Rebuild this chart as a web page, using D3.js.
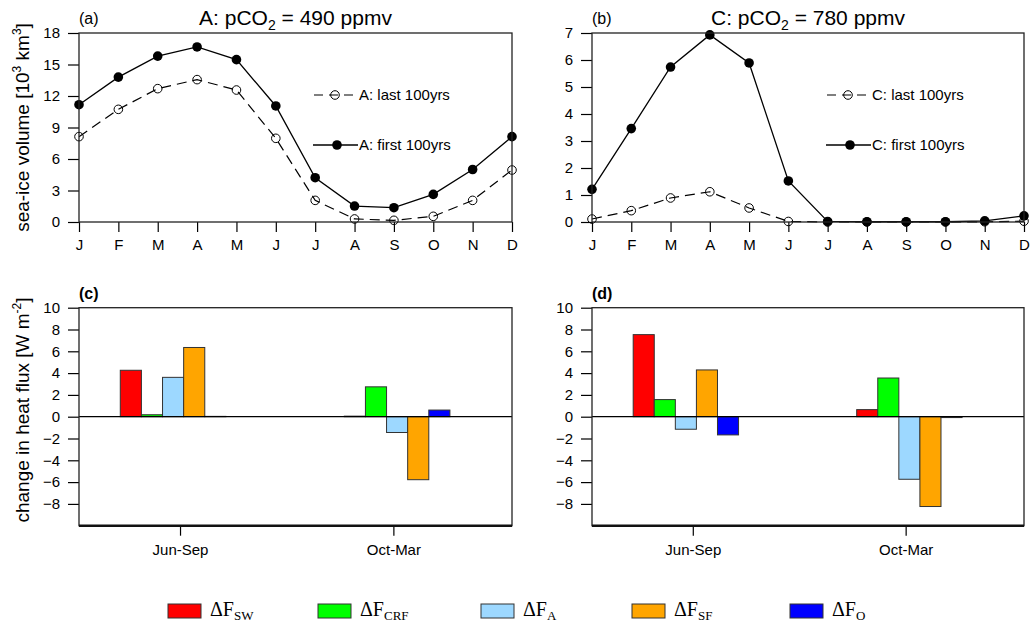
<!DOCTYPE html>
<html lang="en">
<head>
<meta charset="utf-8">
<title>Sea-ice volume and surface heat flux</title>
<script src="https://d3js.org/d3.v7.min.js"></script>
<style>
    body {
        margin: 0;
        background: #fff;
    }
    svg {
        display: block;
        font-family: "Liberation Sans", Arial, sans-serif;
    }
</style>
</head>
<body>
<div id="chart"></div>
<script>
    // monthly sea-ice volume, 10^3 km^3
    var months = ["J", "F", "M", "A", "M", "J", "J", "A", "S", "O", "N", "D"];
    var aFirst = [11.17, 13.8, 15.8, 16.67, 15.46, 11.05, 4.22, 1.52, 1.36, 2.63, 5.0, 8.13];
    var aLast = [8.13, 10.73, 12.7, 13.56, 12.57, 7.97, 2.06, 0.29, 0.16, 0.54, 2.06, 4.95];
    var cFirst = [1.21, 3.46, 5.74, 6.93, 5.89, 1.52, 0.02, 0.01, 0.01, 0.01, 0.04, 0.23];
    var cLast = [0.11, 0.42, 0.89, 1.12, 0.52, 0.02, 0.0, 0.0, 0.0, 0.0, 0.01, 0.03];
    var volTicksA = [0, 3, 6, 9, 12, 15, 18];
    var volTicksC = [0, 1, 2, 3, 4, 5, 6, 7];

    // seasonal change in heat flux, W m^-2, one value per flux term
    var seasons = ["Jun-Sep", "Oct-Mar"];
    var fluxTerms = ["SW", "CRF", "A", "SF", "O"];
    var fluxA_JunSep = [4.26, 0.18, 3.61, 6.35, 0.03];
    var fluxA_OctMar = [0.05, 2.74, -1.45, -5.78, 0.61];
    var fluxC_JunSep = [7.53, 1.57, -1.15, 4.29, -1.67];
    var fluxC_OctMar = [0.65, 3.55, -5.74, -8.24, -0.08];
    var fluxTicks = [-8, -6, -4, -2, 0, 2, 4, 6, 8, 10];

    var fluxColors = ["#ff0000", "#00ff00", "#9dd8ff", "#ffa500", "#0000ff"];
    var font = "Liberation Sans, Arial, sans-serif";

    var svg = d3.select("#chart")
        .append("svg")
        .attr("width", 1032)
        .attr("height", 628);

    function styleAxis(g) {
        g.select(".domain").remove();
        g.attr("font-size", 15).attr("font-family", font);
        g.selectAll(".tick line").attr("stroke", "#000").attr("stroke-width", 1.2);
        g.selectAll(".tick text").attr("fill", "#000");
    }

    function frame(g, w, h, bottomWidth) {
        g.append("rect")
            .attr("width", w)
            .attr("height", h)
            .attr("fill", "none")
            .attr("stroke", "#222")
            .attr("stroke-width", 1.3);
        if (bottomWidth) {
            g.append("line")
                .attr("x1", 0).attr("x2", w)
                .attr("y1", h).attr("y2", h)
                .attr("stroke", "#111")
                .attr("stroke-width", bottomWidth);
        }
    }

    function volumePanel(p) {
        var g = svg.append("g").attr("transform", "translate(" + p.left + "," + p.top + ")");
        var x = d3.scaleLinear().domain([0, months.length - 1]).range([0, p.width]);
        var y = d3.scaleLinear().domain([0, d3.max(p.ticks)]).range([p.height, 0]);

        g.append("g")
            .attr("transform", "translate(0," + p.height + ")")
            .call(d3.axisBottom(x)
                .tickValues(d3.range(months.length))
                .tickFormat(function (i) { return months[i]; })
                .tickSize(10)
                .tickPadding(7))
            .call(styleAxis);
        g.append("g")
            .call(d3.axisLeft(y).tickValues(p.ticks).tickFormat(d3.format("d")).tickSize(11).tickPadding(8))
            .call(styleAxis);

        var line = d3.line()
            .x(function (d, i) { return x(i); })
            .y(function (d) { return y(d); });

        g.append("path")
            .datum(p.last)
            .attr("d", line)
            .attr("fill", "none")
            .attr("stroke", "#000")
            .attr("stroke-width", 1.2)
            .attr("stroke-dasharray", "10,6");
        g.append("path")
            .datum(p.first)
            .attr("d", line)
            .attr("fill", "none")
            .attr("stroke", "#000")
            .attr("stroke-width", 1.3);

        g.selectAll(".open")
            .data(p.last)
            .enter().append("circle")
            .attr("class", "open")
            .attr("cx", function (d, i) { return x(i); })
            .attr("cy", function (d) { return y(d); })
            .attr("r", 4.3)
            .attr("fill", "none")
            .attr("stroke", "#000")
            .attr("stroke-width", 1);
        g.selectAll(".dot")
            .data(p.first)
            .enter().append("circle")
            .attr("class", "dot")
            .attr("cx", function (d, i) { return x(i); })
            .attr("cy", function (d) { return y(d); })
            .attr("r", 4.8)
            .attr("fill", "#000");

        frame(g, p.width, p.height);

        // legend inside the plot
        var lg = g.append("g").attr("transform", "translate(234,0)");
        lg.append("line").attr("x1", 0).attr("x2", 44).attr("y1", 62).attr("y2", 62)
            .attr("stroke", "#000").attr("stroke-width", 1.2).attr("stroke-dasharray", "9,6").attr("stroke-dashoffset", -1);
        lg.append("circle").attr("cx", 22).attr("cy", 62).attr("r", 4.3)
            .attr("fill", "none").attr("stroke", "#000");
        lg.append("text").attr("x", 46).attr("y", 67).attr("font-size", 15)
            .text(p.name + ": last 100yrs");
        lg.append("line").attr("x1", 0).attr("x2", 45).attr("y1", 112).attr("y2", 112)
            .attr("stroke", "#000").attr("stroke-width", 1.3);
        lg.append("circle").attr("cx", 24).attr("cy", 112).attr("r", 4.8).attr("fill", "#000");
        lg.append("text").attr("x", 46).attr("y", 117).attr("font-size", 15)
            .text(p.name + ": first 100yrs");

        g.append("text").attr("x", 0).attr("y", -9).attr("font-size", 16).text(p.letter);
        var t = g.append("text")
            .attr("x", p.width / 2)
            .attr("y", -8)
            .attr("text-anchor", "middle")
            .attr("font-size", 21);
        t.append("tspan").text(p.name + ": pCO");
        t.append("tspan").attr("font-size", 14).attr("dy", 5).text("2");
        t.append("tspan").attr("dy", -5).text(" = " + p.co2 + " ppmv");

        return g;
    }

    function fluxPanel(p) {
        var g = svg.append("g").attr("transform", "translate(" + p.left + "," + p.top + ")");
        // tick positions 1 and 2 for the two seasons
        var x = d3.scaleLinear().domain([0.5265, 2.556]).range([0, p.width]);
        var y = d3.scaleLinear().domain([-10, 10]).range([p.height, 0]);
        var barW = 0.099;
        var groupStart = [0.72, 1.77];

        g.append("g")
            .attr("transform", "translate(0," + p.height + ")")
            .call(d3.axisBottom(x)
                .tickValues([1, 2])
                .tickFormat(function (d) { return seasons[d - 1]; })
                .tickSize(10)
                .tickPadding(9))
            .call(styleAxis);
        g.append("g")
            .call(d3.axisLeft(y).tickValues(fluxTicks).tickSize(11).tickPadding(8))
            .call(styleAxis);

        p.groups.forEach(function (vals, gi) {
            g.selectAll(".bar" + gi)
                .data(vals)
                .enter().append("rect")
                .attr("class", "bar" + gi)
                .attr("x", function (d, i) { return x(groupStart[gi] + i * barW); })
                .attr("width", x(barW) - x(0))
                .attr("y", function (d) { return y(Math.max(0, d)); })
                .attr("height", function (d) { return Math.abs(y(d) - y(0)); })
                .attr("fill", function (d, i) { return fluxColors[i]; })
                .attr("stroke", "#333")
                .attr("stroke-width", 1);
        });

        g.append("line")
            .attr("x1", 0).attr("x2", p.width)
            .attr("y1", y(0)).attr("y2", y(0))
            .attr("stroke", "#000")
            .attr("stroke-width", 1.3);

        frame(g, p.width, p.height, 2.4);

        g.append("text").attr("x", 0).attr("y", -9)
            .attr("font-size", 16).attr("font-weight", "bold").text(p.letter);
        return g;
    }

    volumePanel({ left: 79, top: 33, width: 433, height: 189, ticks: volTicksA,
        first: aFirst, last: aLast, name: "A", co2: 490, letter: "(a)" });
    volumePanel({ left: 592, top: 33, width: 432, height: 189, ticks: volTicksC,
        first: cFirst, last: cLast, name: "C", co2: 780, letter: "(b)" });
    fluxPanel({ left: 79, top: 307.7, width: 433, height: 218,
        groups: [fluxA_JunSep, fluxA_OctMar], letter: "(c)" });
    fluxPanel({ left: 592, top: 307.7, width: 432, height: 218,
        groups: [fluxC_JunSep, fluxC_OctMar], letter: "(d)" });

    // y-axis titles
    var yl1 = svg.append("text")
        .attr("transform", "translate(29,127.5) rotate(-90)")
        .attr("text-anchor", "middle")
        .attr("font-size", 19);
    yl1.append("tspan").text("sea-ice volume [10");
    yl1.append("tspan").attr("font-size", 12).attr("dy", -8).text("3");
    yl1.append("tspan").attr("dy", 8).text(" km");
    yl1.append("tspan").attr("font-size", 12).attr("dy", -8).text("3");
    yl1.append("tspan").attr("dy", 8).text("]");

    var yl2 = svg.append("text")
        .attr("transform", "translate(29,410) rotate(-90)")
        .attr("text-anchor", "middle")
        .attr("font-size", 19);
    yl2.append("tspan").text("change in heat flux [W m");
    yl2.append("tspan").attr("font-size", 12).attr("dy", -8).text("-2");
    yl2.append("tspan").attr("dy", 8).text("]");

    // flux legend along the bottom
    var legendX = [168, 318, 481, 632, 790];
    var leg = svg.append("g").attr("font-family", "Liberation Serif, Times New Roman, serif");
    fluxTerms.forEach(function (term, i) {
        leg.append("rect")
            .attr("x", legendX[i]).attr("y", 604)
            .attr("width", 33).attr("height", 14)
            .attr("fill", fluxColors[i])
            .attr("stroke", "#333")
            .attr("stroke-width", 1);
        var t = leg.append("text")
            .attr("x", legendX[i] + 42)
            .attr("y", 616)
            .attr("font-size", 20);
        t.append("tspan").text("\u0394F");
        t.append("tspan").attr("font-size", 13).attr("dy", 4).text(term);
    });
</script>
</body>
</html>
